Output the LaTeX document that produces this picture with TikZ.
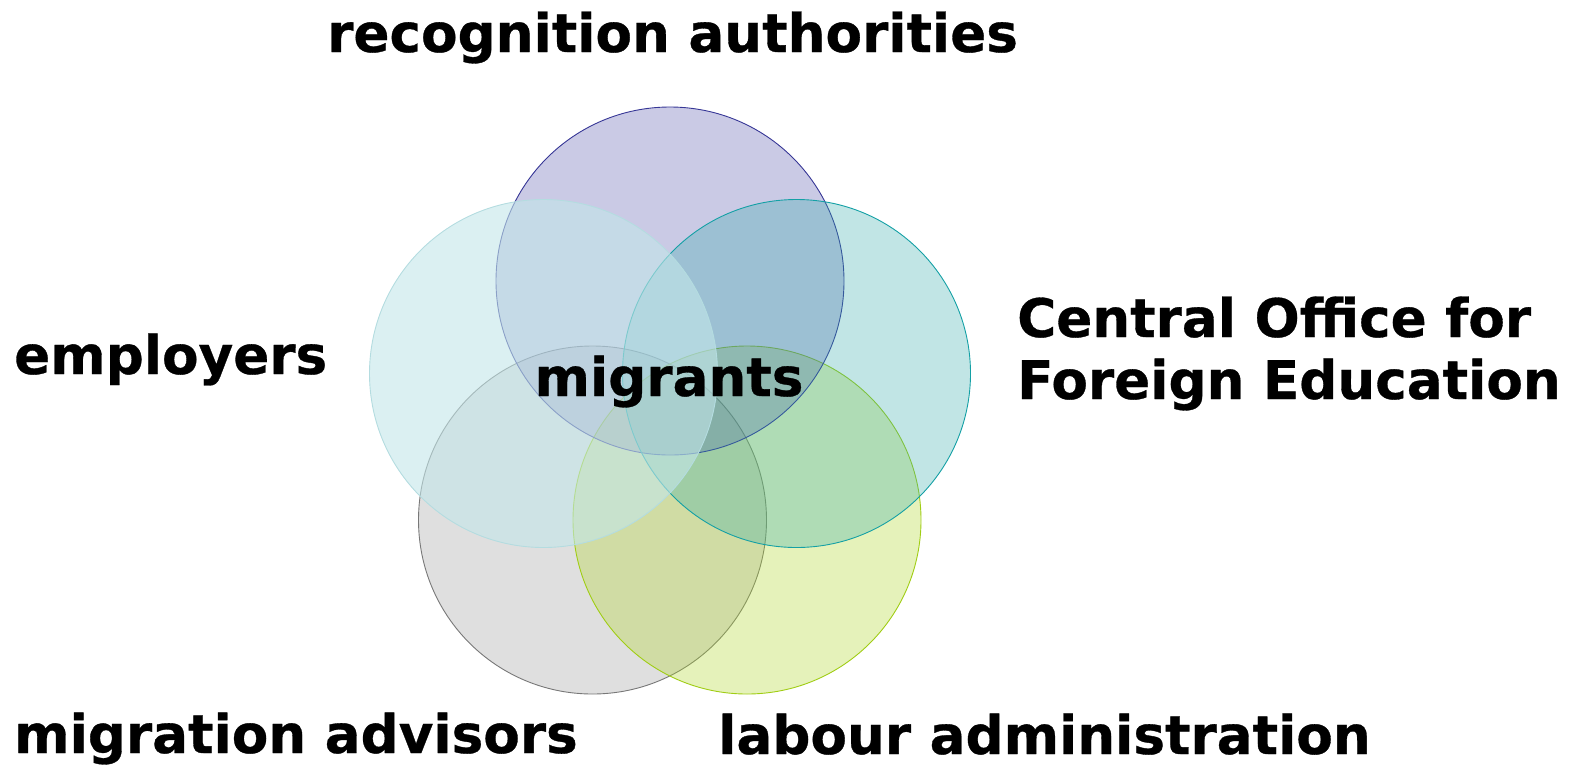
\documentclass[tikz,border=0pt]{standalone}
\usepackage{fontspec}
\setmainfont{DejaVu Sans}[BoldFeatures={FakeBold=0.6}]
\definecolor{topcol}{RGB}{80,80,170}
\definecolor{topline}{RGB}{55,55,150}
\definecolor{leftcol}{RGB}{195,230,233}
\definecolor{leftline}{RGB}{180,220,224}
\definecolor{rightcol}{RGB}{50,170,170}
\definecolor{rightline}{RGB}{20,160,165}
\definecolor{greycol}{RGB}{140,140,140}
\definecolor{greyline}{RGB}{120,120,120}
\definecolor{yelcol}{RGB}{175,215,40}
\definecolor{yelline}{RGB}{160,205,20}
\begin{document}
\begin{tikzpicture}[x=1pt,y=-1pt,
  setc/.style={circle,minimum size=348pt,inner sep=0pt,line width=0.9pt},
  lbl/.style={inner sep=0pt,anchor=base west,font=\fontsize{53.2}{62}\selectfont\bfseries},
]
\useasboundingbox (0,0) rectangle (1575,764);
\node[setc,draw=greyline,fill=greycol,fill opacity=0.28] (grey) at (592.5,520) {};
\node[setc,draw=yelline,fill=yelcol,fill opacity=0.32] (yel) at (747,520) {};
\node[setc,draw=topline,fill=topcol,fill opacity=0.3] (top) at (670,281) {};
\node[setc,draw=rightline,fill=rightcol,fill opacity=0.3] (right) at (796.5,373.5) {};
\node[setc,draw=leftline,fill=leftcol,fill opacity=0.6] (left) at (543.5,373.5) {};

\node[lbl] (rec) at (327,52) {recognition authorities};
\node[lbl] (emp) at (14,374) {employers};
\node[lbl] (cof1) at (1017,337) {Central Office for};
\node[lbl] (cof2) at (1017,399) {Foreign Education};
\node[inner sep=0pt,anchor=base,font=\fontsize{53.2}{62}\selectfont\bfseries] (mig) at (669,396) {migrants};
\node[lbl] (adv) at (14,753) {migration advisors};
\node[lbl] (lab) at (718,754) {labour administration};
\end{tikzpicture}
\end{document}
